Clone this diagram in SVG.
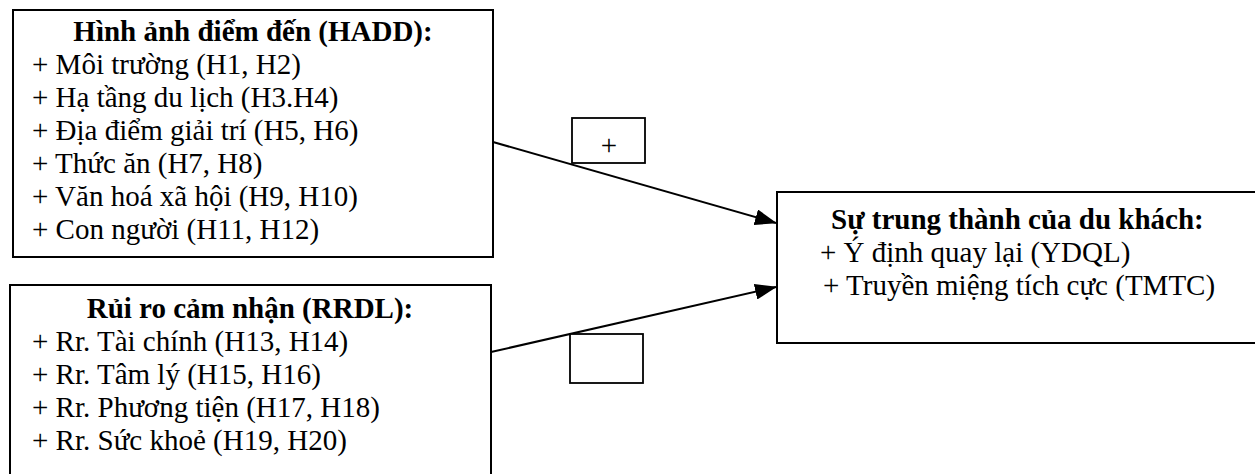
<svg xmlns="http://www.w3.org/2000/svg" width="1255" height="474" viewBox="0 0 1255 474">
<defs>
<style>
.box{fill:#fff;stroke:#000;stroke-width:2}
.lbl{fill:#fff;stroke:#000;stroke-width:1.8}
.t{font-family:"Liberation Serif","Times New Roman",serif;font-size:29px;fill:#000}
.b{font-weight:bold}
.c{text-anchor:middle}
.edge{stroke:#000;stroke-width:2;fill:none}
</style>
<marker id="ah" markerUnits="userSpaceOnUse" markerWidth="22" markerHeight="16" refX="21" refY="8" orient="auto">
<path d="M0,0 L22,8 L0,16 z" fill="#000"/>
</marker>
</defs>
<rect width="1255" height="474" fill="#fff"/>
<g id="connectors">
<line class="edge" x1="493" y1="142" x2="776" y2="223" marker-end="url(#ah)"/>
<line class="edge" x1="491" y1="352" x2="776" y2="287" marker-end="url(#ah)"/>
<g id="label-plus">
<rect class="lbl" x="572" y="118" width="73" height="45"/>
<text class="t c" x="609" y="155">+</text>
</g>
<g id="label-empty">
<rect class="lbl" x="570" y="334" width="73" height="49"/>
</g>
</g>
<g id="hadd">
<rect class="box" x="13" y="10" width="480" height="247"/>
<text class="t b c" x="253" y="41">Hình ảnh điểm đến (HADD):</text>
<text class="t" x="32" y="74">+ Môi trường (H1, H2)</text>
<text class="t" x="32" y="107">+ Hạ tầng du lịch (H3.H4)</text>
<text class="t" x="32" y="140">+ Địa điểm giải trí (H5, H6)</text>
<text class="t" x="32" y="173">+ Thức ăn (H7, H8)</text>
<text class="t" x="32" y="206">+ Văn hoá xã hội (H9, H10)</text>
<text class="t" x="32" y="239">+ Con người (H11, H12)</text>
</g>
<g id="rrdl">
<rect class="box" x="10" y="285" width="481" height="220"/>
<text class="t b c" x="250" y="318">Rủi ro cảm nhận (RRDL):</text>
<text class="t" x="32" y="351">+ Rr. Tài chính (H13, H14)</text>
<text class="t" x="32" y="384">+ Rr. Tâm lý (H15, H16)</text>
<text class="t" x="32" y="417">+ Rr. Phương tiện (H17, H18)</text>
<text class="t" x="32" y="450">+ Rr. Sức khoẻ (H19, H20)</text>
</g>
<g id="loyalty">
<rect class="box" x="777" y="192" width="520" height="151"/>
<text class="t b" x="831" y="229">Sự trung thành của du khách:</text>
<text class="t" x="820" y="262">+ Ý định quay lại (YDQL)</text>
<text class="t" x="823" y="295">+ Truyền miệng tích cực (TMTC)</text>
</g>
</svg>
